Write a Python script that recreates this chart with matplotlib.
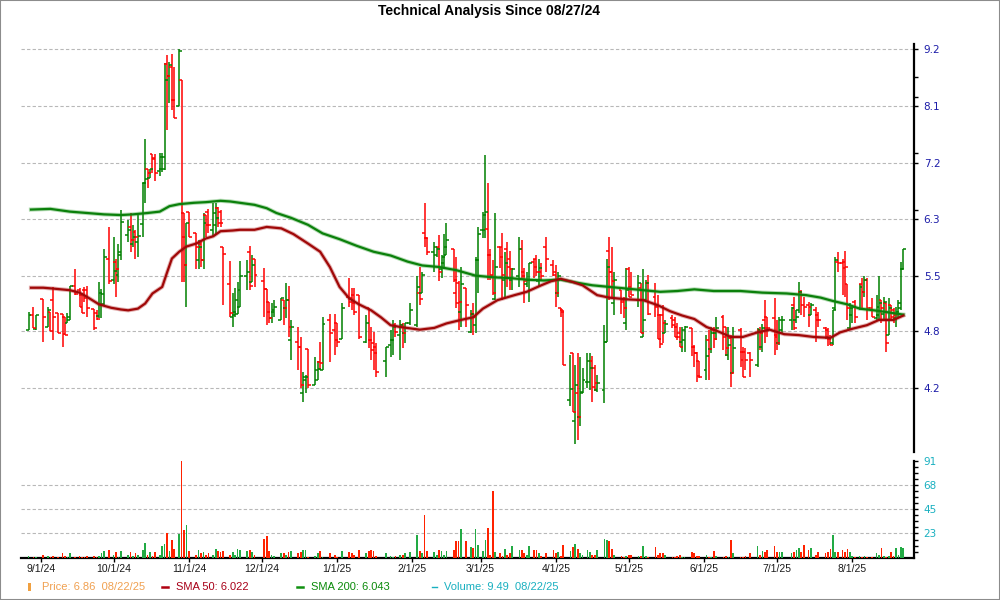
import matplotlib
matplotlib.use("Agg")
import matplotlib.pyplot as plt
from matplotlib.patches import Rectangle
from matplotlib.lines import Line2D
from matplotlib.ticker import FixedLocator, NullFormatter
import numpy as np
import pandas as pd

start = pd.Timestamp("2024-09-01")

# trading days as day offsets from 9/1/24
days = [-5, -3, -2, 1, 3, 4, 5, 7, 9, 10,
        11, 12, 14, 16, 17, 18, 19, 22, 23, 24,
        25, 26, 28, 30, 31, 32, 33, 36, 37, 38,
        39, 40, 42, 43, 44, 45, 46, 47, 49, 50,
        51, 52, 53, 54, 55, 57, 58, 59, 60, 61,
        64, 65, 66, 67, 68, 69, 71, 72, 73, 74,
        75, 78, 79, 80, 81, 82, 85, 86, 87, 88,
        92, 93, 94, 95, 96, 99, 100, 101, 102, 103,
        106, 107, 108, 109, 110, 113, 114, 115, 116, 119,
        121, 122, 124, 127, 128, 129, 131, 134, 135, 136,
        137, 138, 142, 144, 145, 146, 148, 149, 150, 152,
        155, 156, 157, 158, 159, 162, 163, 164, 165, 166,
        167, 170, 171, 172, 173, 175, 177, 178, 179, 180,
        182, 183, 184, 185, 186, 187, 189, 190, 191, 192,
        193, 194, 197, 198, 199, 200, 201, 203, 204, 205,
        206, 208, 211, 212, 213, 214, 215, 218, 219, 220,
        221, 222, 223, 225, 226, 227, 228, 229, 232, 233,
        234, 235, 236, 239, 240, 241, 242, 243, 246, 247,
        248, 249, 250, 253, 254, 255, 256, 257, 260, 261,
        262, 263, 264, 265, 268, 269, 270, 271, 274, 275,
        276, 277, 278, 281, 282, 283, 284, 285, 288, 289,
        290, 292, 295, 296, 297, 298, 299, 302, 303, 304,
        305, 309, 310, 311, 312, 313, 314, 316, 317, 319,
        320, 323, 324, 325, 326, 327, 328, 330, 331, 332,
        333, 334, 335, 337, 338, 339, 340, 342, 344, 345,
        346, 347, 348, 349, 350, 351, 352, 353, 354, 355]

opens = [4.81, 4.98, 4.82, 5.16, 4.84, 5.01, 5.15, 5.00, 4.99, 4.95,
         4.88, 4.92, 5.32, 5.27, 5.21, 5.27, 5.27, 5.05, 5.00, 4.96,
         5.11, 5.11, 5.67, 5.40, 5.63, 5.46, 5.72, 5.99, 6.10, 5.86,
         6.03, 5.89, 6.14, 6.76, 6.98, 6.83, 7.22, 7.16, 6.94, 6.98,
         6.98, 8.89, 8.65, 8.82, 8.18, 8.06, 8.57, 6.30, 5.58, 6.32,
         6.02, 5.65, 5.86, 5.65, 6.27, 6.32, 6.06, 6.13, 6.38, 6.32,
         5.82, 5.34, 4.95, 4.98, 4.99, 5.07, 5.44, 5.75, 5.37, 5.67,
         5.38, 5.29, 5.13, 4.94, 5.01, 4.92, 5.15, 5.06, 5.15, 4.70,
         4.67, 4.62, 4.15, 4.28, 4.60, 4.23, 4.28, 4.46, 4.38, 4.92,
         4.81, 4.89, 4.71, 5.19, 5.17, 5.21, 5.21, 4.67, 5.06, 4.70,
         4.66, 4.62, 4.47, 4.64, 4.70, 4.86, 4.75, 4.86, 4.77, 4.89,
         4.86, 5.24, 5.24, 6.02, 5.94, 5.75, 5.72, 5.82, 5.53, 5.61,
         5.72, 5.79, 5.24, 5.36, 5.01, 5.30, 4.78, 4.99, 4.86, 5.65,
         6.06, 6.06, 6.07, 5.72, 5.46, 5.16, 5.82, 5.82, 5.40, 5.79,
         5.67, 5.40, 5.44, 5.79, 5.49, 5.34, 5.40, 5.63, 5.67, 5.38,
         5.50, 5.82, 5.59, 5.46, 5.24, 5.06, 5.03, 4.09, 4.56, 3.89,
         4.15, 3.93, 4.15, 4.26, 4.26, 4.47, 4.40, 4.18, 4.18, 4.67,
         5.77, 5.50, 5.12, 5.27, 5.15, 4.89, 5.53, 5.31, 5.15, 5.30,
         4.73, 5.15, 5.36, 5.19, 5.07, 4.98, 4.98, 4.77, 4.94, 4.92,
         4.84, 4.77, 4.67, 4.70, 4.83, 4.62, 4.56, 4.47, 4.38, 4.70,
         4.60, 4.81, 4.77, 4.95, 4.84, 4.54, 4.72, 4.35, 4.81, 4.57,
         4.57, 4.56, 4.43, 4.81, 4.62, 4.92, 4.95, 4.94, 4.75, 4.66,
         4.81, 4.92, 5.09, 4.92, 5.03, 5.25, 5.09, 5.09, 4.98, 5.03,
         4.98, 4.83, 4.81, 4.71, 4.66, 5.06, 5.63, 5.61, 5.63, 5.34,
         4.83, 4.98, 5.13, 5.06, 5.34, 5.25, 5.40, 5.06, 4.94, 4.98,
         5.15, 4.99, 5.12, 4.75, 5.09, 5.03, 4.94, 5.01, 5.06, 5.53]

highs = [5.01, 5.07, 4.98, 5.16, 5.07, 5.01, 5.31, 5.00, 4.99, 4.95,
         5.00, 5.32, 5.53, 5.30, 5.24, 5.31, 5.32, 5.05, 5.03, 5.37,
         5.29, 5.80, 6.10, 5.96, 5.67, 5.86, 6.35, 6.20, 6.30, 6.13,
         6.06, 6.27, 6.76, 7.47, 6.98, 6.98, 7.22, 7.22, 7.24, 7.24,
         8.91, 9.08, 8.94, 9.10, 8.82, 9.20, 8.57, 6.30, 6.16, 6.32,
         6.02, 5.92, 5.89, 6.30, 6.27, 6.36, 6.45, 6.45, 6.39, 6.35,
         5.82, 5.64, 5.24, 5.30, 5.37, 5.64, 5.65, 5.84, 5.72, 5.67,
         5.55, 5.29, 5.13, 5.12, 5.15, 5.17, 5.15, 5.36, 5.32, 4.92,
         4.84, 4.73, 4.36, 4.33, 4.60, 4.52, 4.47, 4.67, 4.95, 4.99,
         4.99, 4.89, 5.12, 5.42, 5.30, 5.30, 5.21, 4.98, 5.06, 4.84,
         4.78, 4.66, 4.62, 4.81, 4.92, 4.89, 4.92, 4.89, 4.89, 5.12,
         5.44, 5.56, 5.50, 6.45, 5.94, 5.89, 5.82, 5.99, 5.72, 6.00,
         6.16, 5.79, 5.69, 5.38, 5.56, 5.30, 5.03, 5.12, 5.69, 6.10,
         6.32, 7.21, 6.76, 5.79, 5.65, 6.30, 5.82, 6.02, 5.75, 5.89,
         5.77, 5.55, 5.96, 5.92, 5.55, 5.50, 5.61, 5.67, 5.72, 5.67,
         5.61, 5.96, 5.65, 5.59, 5.49, 5.06, 5.03, 4.54, 4.56, 4.43,
         4.56, 4.52, 4.40, 4.56, 4.56, 4.53, 4.43, 4.33, 4.86, 5.67,
         5.96, 5.82, 5.50, 5.27, 5.19, 5.55, 5.56, 5.49, 5.46, 5.36,
         5.53, 5.40, 5.46, 5.36, 5.21, 4.99, 5.09, 4.92, 4.98, 4.95,
         4.89, 4.84, 4.84, 4.85, 4.83, 4.64, 4.57, 4.47, 4.75, 4.81,
         4.84, 4.84, 4.95, 4.98, 4.84, 4.84, 4.75, 4.84, 4.83, 4.62,
         4.61, 4.57, 4.83, 4.84, 4.87, 5.15, 4.95, 5.17, 4.92, 4.95,
         4.96, 5.07, 5.19, 5.03, 5.37, 5.27, 5.19, 5.13, 5.12, 5.07,
         5.01, 4.84, 4.83, 4.75, 5.03, 5.69, 5.75, 5.67, 5.77, 5.34,
         5.12, 5.07, 5.15, 5.34, 5.42, 5.44, 5.42, 5.17, 5.21, 5.44,
         5.15, 5.19, 5.12, 5.17, 5.09, 5.06, 5.07, 5.15, 5.63, 5.80]

lows = [4.81, 4.83, 4.81, 4.68, 4.84, 4.79, 4.70, 4.77, 4.62, 4.75,
        4.88, 4.92, 5.21, 5.07, 5.00, 5.13, 4.95, 4.81, 4.92, 4.94,
        4.94, 5.09, 5.34, 5.34, 5.19, 5.37, 5.65, 5.89, 5.75, 5.82,
        5.67, 5.69, 5.96, 6.45, 6.68, 6.83, 6.91, 6.78, 6.86, 6.92,
        6.96, 7.63, 8.12, 7.99, 7.85, 8.06, 5.37, 5.37, 5.07, 5.96,
        5.53, 5.53, 5.56, 5.53, 5.96, 6.02, 5.96, 5.99, 6.10, 6.10,
        5.09, 4.95, 4.84, 4.95, 4.99, 5.07, 5.27, 5.27, 5.37, 5.31,
        4.95, 4.86, 4.88, 4.89, 4.95, 4.92, 4.86, 4.94, 4.73, 4.48,
        4.38, 4.20, 4.07, 4.15, 4.20, 4.23, 4.28, 4.38, 4.38, 4.46,
        4.54, 4.62, 4.71, 5.07, 5.03, 4.98, 4.71, 4.66, 4.61, 4.48,
        4.38, 4.31, 4.31, 4.52, 4.54, 4.73, 4.48, 4.61, 4.66, 4.86,
        4.84, 5.09, 5.24, 5.82, 5.72, 5.50, 5.69, 5.38, 5.42, 5.53,
        5.72, 5.37, 5.06, 4.81, 4.84, 4.84, 4.77, 4.75, 4.77, 5.24,
        5.94, 5.94, 5.40, 5.40, 5.21, 5.15, 5.55, 5.15, 5.19, 5.31,
        5.27, 5.27, 5.31, 5.40, 5.12, 5.31, 5.13, 5.42, 5.44, 5.31,
        5.38, 5.49, 5.44, 5.07, 5.19, 4.95, 4.43, 4.03, 3.98, 3.69,
        3.73, 3.85, 4.15, 4.20, 4.18, 4.07, 4.17, 4.16, 4.06, 4.67,
        5.15, 5.19, 4.98, 4.99, 4.94, 4.81, 5.19, 5.21, 5.07, 4.77,
        4.73, 5.15, 4.98, 4.95, 4.71, 4.61, 4.66, 4.77, 4.83, 4.73,
        4.70, 4.62, 4.57, 4.57, 4.53, 4.41, 4.26, 4.30, 4.28, 4.28,
        4.56, 4.61, 4.70, 4.59, 4.53, 4.48, 4.21, 4.35, 4.41, 4.31,
        4.38, 4.31, 4.41, 4.59, 4.57, 4.66, 4.73, 4.54, 4.59, 4.64,
        4.77, 4.81, 4.81, 4.89, 5.00, 4.98, 4.95, 4.84, 4.98, 4.68,
        4.84, 4.71, 4.63, 4.64, 4.64, 5.03, 5.49, 5.21, 5.19, 4.92,
        4.81, 4.88, 4.88, 5.03, 5.03, 5.19, 4.92, 4.95, 4.92, 4.92,
        4.88, 4.92, 4.57, 4.75, 4.92, 4.88, 4.84, 4.95, 5.03, 5.53]

closes = [4.98, 4.83, 4.98, 4.95, 5.03, 4.79, 4.95, 4.77, 4.76, 4.75,
          4.95, 5.32, 5.22, 5.07, 5.00, 5.17, 5.06, 4.83, 4.93, 5.24,
          5.22, 5.69, 5.38, 5.51, 5.53, 5.76, 6.17, 6.05, 5.92, 5.96,
          5.96, 5.98, 6.76, 6.82, 6.91, 6.98, 7.14, 6.91, 7.17, 7.17,
          8.57, 8.65, 8.87, 8.18, 7.85, 9.16, 5.96, 5.59, 6.15, 5.96,
          5.82, 5.82, 5.65, 6.16, 6.13, 6.13, 6.30, 6.23, 6.16, 6.15,
          5.73, 5.00, 5.01, 5.15, 5.27, 5.44, 5.50, 5.32, 5.58, 5.46,
          5.29, 5.01, 4.94, 5.03, 5.07, 5.17, 5.06, 5.15, 4.84, 4.84,
          4.62, 4.23, 4.31, 4.31, 4.23, 4.38, 4.39, 4.45, 4.87, 4.77,
          4.70, 4.67, 5.06, 5.13, 5.12, 5.01, 4.73, 4.89, 4.70, 4.59,
          4.56, 4.36, 4.62, 4.70, 4.84, 4.78, 4.86, 4.77, 4.88, 5.03,
          5.31, 5.16, 5.46, 5.94, 5.75, 5.82, 5.80, 5.49, 5.69, 5.82,
          5.92, 5.40, 5.12, 5.13, 5.35, 5.09, 4.99, 4.95, 5.65, 6.00,
          6.27, 6.32, 5.72, 5.44, 5.24, 5.56, 5.69, 5.46, 5.61, 5.56,
          5.53, 5.53, 5.79, 5.44, 5.38, 5.40, 5.61, 5.56, 5.49, 5.55,
          5.44, 5.67, 5.49, 5.24, 5.44, 5.01, 4.43, 4.19, 3.98, 4.23,
          3.93, 4.16, 4.28, 4.47, 4.40, 4.21, 4.25, 4.25, 4.67, 5.56,
          5.50, 5.38, 5.40, 5.13, 5.06, 5.27, 5.19, 5.21, 5.36, 4.77,
          4.92, 5.36, 4.99, 5.08, 4.71, 4.65, 4.88, 4.87, 4.86, 4.73,
          4.73, 4.62, 4.81, 4.84, 4.62, 4.56, 4.32, 4.31, 4.53, 4.60,
          4.77, 4.71, 4.83, 4.73, 4.61, 4.64, 4.35, 4.61, 4.48, 4.31,
          4.48, 4.48, 4.81, 4.77, 4.83, 4.83, 4.83, 4.73, 4.66, 4.92,
          4.92, 5.06, 4.83, 4.95, 5.25, 5.21, 5.07, 5.07, 5.09, 4.92,
          4.92, 4.73, 4.71, 4.64, 5.03, 5.65, 5.61, 5.55, 5.56, 5.06,
          5.06, 5.07, 4.95, 5.31, 5.25, 5.40, 5.06, 4.95, 5.07, 5.12,
          5.06, 5.13, 4.66, 5.06, 4.95, 4.98, 5.01, 5.12, 5.53, 5.79]

volumes = [2, 1, 1, 3, 2, 1, 2, 1, 4, 2,
           1, 4, 1, 2, 1, 1, 2, 2, 1, 2,
           4, 6, 7, 3, 5, 1, 6, 3, 5, 2,
           4, 3, 7, 14, 3, 5, 2, 5, 3, 11,
           13, 23, 6, 17, 8, 22, 91, 26, 31, 6,
           3, 7, 4, 5, 3, 4, 3, 8, 6, 5,
           6, 3, 5, 3, 8, 7, 6, 7, 5, 3,
           18, 20, 6, 3, 2, 4, 4, 3, 5, 6,
           4, 5, 7, 7, 1, 2, 4, 6, 1, 4,
           3, 1, 6, 5, 4, 3, 7, 4, 6, 7,
           6, 2, 4, 2, 1, 2, 3, 3, 4, 5,
           21, 6, 4, 40, 6, 5, 3, 7, 6, 3,
           6, 7, 16, 16, 27, 16, 10, 9, 27, 12,
           6, 17, 28, 3, 63, 5, 4, 2, 8, 3,
           4, 11, 7, 7, 4, 3, 11, 7, 7, 4,
           2, 4, 7, 4, 5, 2, 12, 6, 10, 13,
           8, 4, 3, 7, 5, 3, 3, 7, 18, 17,
           16, 8, 3, 2, 1, 2, 3, 3, 2, 2,
           11, 2, 1, 10, 3, 4, 4, 3, 1, 1,
           2, 3, 1, 1, 5, 4, 2, 2, 3, 1,
           1, 6, 2, 1, 2, 1, 17, 4, 1, 1,
           2, 4, 11, 3, 6, 5, 7, 11, 5, 5,
           5, 4, 5, 7, 9, 5, 12, 7, 9, 3,
           5, 4, 5, 8, 21, 5, 5, 7, 5, 8,
           5, 2, 1, 2, 1, 2, 1, 1, 4, 3,
           9, 2, 1, 2, 5, 2, 9, 3, 10, 9.49]

sma50_days = [-4, 1, 5, 12, 16, 19, 24, 29, 33, 36,
              40, 43, 46, 50, 52, 54, 57, 60, 64, 68,
              71, 74, 79, 82, 88, 93, 99, 104, 110, 115,
              119, 123, 127, 131, 136, 140, 144, 148, 156, 162,
              167, 173, 178, 182, 188, 195, 200, 206, 210, 214,
              219, 223, 229, 234, 241, 248, 254, 259, 264, 269,
              274, 278, 284, 289, 295, 300, 306, 312, 318, 325,
              329, 334, 340, 345, 351, 355]
sma50 = [5.30, 5.30, 5.29, 5.27, 5.24, 5.19, 5.10, 5.06, 5.04, 5.03,
         5.05, 5.11, 5.23, 5.31, 5.49, 5.67, 5.76, 5.83, 5.87, 5.94,
         5.97, 6.04, 6.05, 6.06, 6.06, 6.10, 6.08, 6.00, 5.87, 5.76,
         5.56, 5.31, 5.17, 5.10, 5.03, 4.95, 4.86, 4.84, 4.81, 4.83,
         4.88, 4.92, 4.95, 5.05, 5.15, 5.21, 5.25, 5.33, 5.38, 5.41,
         5.37, 5.33, 5.21, 5.18, 5.16, 5.15, 5.09, 5.02, 4.97, 4.93,
         4.84, 4.80, 4.73, 4.73, 4.78, 4.81, 4.76, 4.75, 4.73, 4.72,
         4.78, 4.82, 4.86, 4.92, 4.92, 4.97]

sma200_days = [-4, 4, 12, 19, 26, 33, 38, 44, 49, 53,
               57, 63, 68, 74, 78, 82, 88, 93, 97, 103,
               110, 116, 123, 130, 137, 144, 151, 157, 164, 171,
               179, 186, 193, 200, 207, 214, 221, 227, 234, 241,
               248, 255, 262, 269, 277, 288, 297, 307, 315, 321,
               326, 332, 337, 343, 348, 355]
sma200 = [6.35, 6.36, 6.32, 6.30, 6.28, 6.27, 6.28, 6.30, 6.32, 6.40,
          6.43, 6.45, 6.46, 6.48, 6.47, 6.45, 6.42, 6.37, 6.30, 6.23,
          6.13, 6.01, 5.93, 5.84, 5.76, 5.71, 5.63, 5.58, 5.56, 5.52,
          5.45, 5.43, 5.42, 5.40, 5.39, 5.40, 5.36, 5.33, 5.31, 5.29,
          5.27, 5.25, 5.26, 5.28, 5.26, 5.26, 5.24, 5.23, 5.21, 5.18,
          5.14, 5.10, 5.05, 5.03, 5.01, 4.98]

price_ticks = [4.2, 4.79, 5.45, 6.22, 7.08, 8.06, 9.2]
price_labels = ["4.2", "4.8", "5.5", "6.3", "7.2", "8.1", "9.2"]
price_minor = [6.35, 7.23, 8.24, 8.62]
vol_ticks = [22.75, 45.5, 68.25, 91]
vol_labels = ["23", "45", "68", "91"]
months = pd.date_range("2024-09-01", "2025-08-01", freq="MS")

RED = "#ff0000"
GREEN = "#008000"
GRID = "#b8b8b8"

plt.rcParams["font.family"] = ["DejaVu Sans"]

days = np.array(days)
opens = np.array(opens)
closes = np.array(closes)
up = closes >= opens
bar_colors = np.where(up, GREEN, RED)

fig = plt.figure(figsize=(10, 6), dpi=100)

# price panel
ax = fig.add_axes([0.0207, 0.2467, 0.8933, 0.68])
ax.set_yscale("log")
ax.set_ylim(3.625, 9.313)
ax.set_xlim(-8.23, 359.4)

ax.vlines(days, lows, highs, colors=bar_colors, lw=1.1, zorder=3)
ax.hlines(opens, days - 1.2, days, colors=bar_colors, lw=1.1, zorder=3)
ax.hlines(closes, days, days + 1.2, colors=bar_colors, lw=1.1, zorder=3)

ax.plot(sma200_days, sma200, color="#2a9a2a", lw=3.0, alpha=0.35, zorder=4)
ax.plot(sma200_days, sma200, color="#0b800b", lw=1.6, zorder=5)
ax.plot(sma50_days, sma50, color="#b02020", lw=3.0, alpha=0.35, zorder=4)
ax.plot(sma50_days, sma50, color="#a00808", lw=1.6, zorder=5)

ax.yaxis.tick_right()
ax.yaxis.set_major_locator(FixedLocator(price_ticks))
ax.set_yticklabels(price_labels)
ax.yaxis.set_minor_locator(FixedLocator(price_minor))
ax.yaxis.set_minor_formatter(NullFormatter())
ax.tick_params(axis="y", which="major", direction="out", length=3, width=1,
               labelsize=7.5, labelcolor="#1c1ca8", pad=4)
ax.tick_params(axis="y", which="minor", direction="out", length=3, width=1)
ax.set_xticks([])
for y in price_ticks:
    ax.axhline(y, color=GRID, lw=0.8, ls=(0, (3, 2)), zorder=1)
for s in ["top", "left", "bottom"]:
    ax.spines[s].set_visible(False)
ax.spines["right"].set_linewidth(1.6)

# volume panel
axv = fig.add_axes([0.0207, 0.0705, 0.8933, 0.1617])
axv.set_xlim(-8.23, 359.4)
axv.set_ylim(0, 91)
axv.bar(days, volumes, width=0.7, color=np.where(up, "#22aa44", "#ff2200"), zorder=3)
axv.yaxis.tick_right()
axv.yaxis.set_major_locator(FixedLocator(vol_ticks))
axv.set_yticklabels(vol_labels)
axv.yaxis.set_minor_locator(FixedLocator(np.arange(1, 16) * 5.6875))
axv.tick_params(axis="y", which="major", direction="out", length=3, width=1,
                labelsize=7.5, labelcolor="#19b0c0", pad=4)
axv.tick_params(axis="y", which="minor", direction="out", length=3, width=1)
for y in vol_ticks[:-1]:
    axv.axhline(y, color=GRID, lw=0.8, ls=(0, (3, 2)), zorder=1)

month_pos = [(m - start).days for m in months]
month_lab = [f"{m.month}/{m.day}/{m.year % 100}" for m in months]
axv.set_xticks(month_pos)
axv.set_xticklabels(month_lab, family="Liberation Sans", fontsize=7.5, color="#1a1a1a")
axv.tick_params(axis="x", direction="out", length=3, width=1, pad=1.5)
for s in ["top", "left"]:
    axv.spines[s].set_visible(False)
axv.spines["right"].set_linewidth(1.6)
axv.spines["bottom"].set_linewidth(1.6)

fig.text(0.4895, 1 - 11 / 600, "Technical Analysis Since 08/27/24", ha="center", va="center",
         family="Liberation Sans", weight="bold", fontsize=10)

# legend row
ly = 1 - 587 / 600
fig.add_artist(Rectangle((0.0275, ly - 0.006), 0.0035, 0.012, transform=fig.transFigure,
                         color="#f0a040", lw=0))
fig.add_artist(Line2D([0.162, 0.168], [ly, ly], transform=fig.transFigure, color="#b00010", lw=1.8))
fig.add_artist(Line2D([0.297, 0.303], [ly, ly], transform=fig.transFigure, color="#109010", lw=1.8))
fig.add_artist(Line2D([0.432, 0.437], [ly, ly], transform=fig.transFigure, color="#19b0c0", lw=1))
legend_items = [(0.0415, "Price: 6.86  08/22/25", "#f0a050"),
                (0.176, "SMA 50: 6.022", "#a80018"),
                (0.311, "SMA 200: 6.043", "#0a8a0a"),
                (0.444, "Volume: 9.49  08/22/25", "#19b0c0")]
for x, txt, c in legend_items:
    fig.text(x, ly, txt, ha="left", va="center", family="Liberation Sans", fontsize=8, color=c)

fig.add_artist(Rectangle((0, 0), 1, 1, transform=fig.transFigure, fill=False,
                         edgecolor="#8c8c8c", lw=1.5))

fig.savefig("out.png", dpi=100)
